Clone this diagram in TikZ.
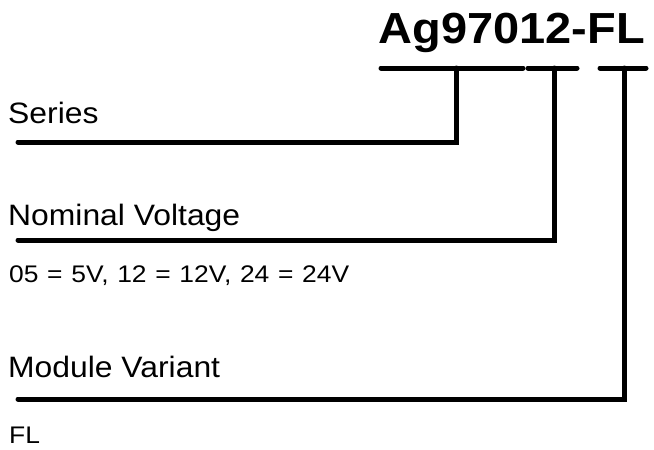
\documentclass[tikz,border=0pt]{standalone}
\usepackage{fontspec}
\setmainfont{Liberation Sans}
\newfontfamily\fuenteancha[FakeStretch=1.08]{Liberation Sans}
\newfontfamily\fuentenotaancha[FakeStretch=1.1]{Liberation Sans}
\newcommand\fuentenota{\fuentenotaancha\fontsize{24}{27}\selectfont\spaceskip 8.7pt\relax}
\begin{document}
\begin{tikzpicture}[x=1pt, y=-1pt,
    linea/.style={line width=5pt, line cap=round, line join=miter},
    titulo/.style={anchor=base east, inner sep=0pt, font=\fuenteancha\fontsize{43.5}{48}\selectfont\bfseries},
    etiqueta/.style={anchor=base west, inner sep=0pt, font=\fuenteancha\fontsize{29.5}{33}\selectfont},
    nota/.style={anchor=base west, inner sep=0pt, font=\fuentenota}]
    \useasboundingbox (0,0) rectangle (654,450);

    % Codigo del modulo
    \node[titulo] (codigo) at (645,43) {Ag97012-FL};

    % Etiquetas
    \node[etiqueta] (serie) at (8,123) {Series};
    \node[etiqueta] (tension) at (8,225) {Nominal Voltage};
    \node[nota] (valores) at (9,282) {05 = 5V, 12 = 12V, 24 = 24V};
    \node[etiqueta] (variante) at (8,377) {Module Variant};
    \node[nota] (fl) at (9,443) {FL};

    % Puntos de las lineas
    \coordinate (a1) at (381,68);
    \coordinate (b1) at (523,68);
    \coordinate (c1) at (456,68);
    \coordinate (f1) at (18,142);
    \coordinate (a2) at (528,68);
    \coordinate (b2) at (577,68);
    \coordinate (c2) at (554,68);
    \coordinate (f2) at (18,240);
    \coordinate (a3) at (600,68);
    \coordinate (b3) at (646,68);
    \coordinate (c3) at (624,68);
    \coordinate (f3) at (18,399);

    % Tramos bajo el codigo y lineas a las etiquetas
    \draw[linea] (a1) -- (b1);
    \draw[linea] (c1) |- (f1);
    \draw[linea] (a2) -- (b2);
    \draw[linea] (c2) |- (f2);
    \draw[linea] (a3) -- (b3);
    \draw[linea] (c3) |- (f3);
\end{tikzpicture}
\end{document}
